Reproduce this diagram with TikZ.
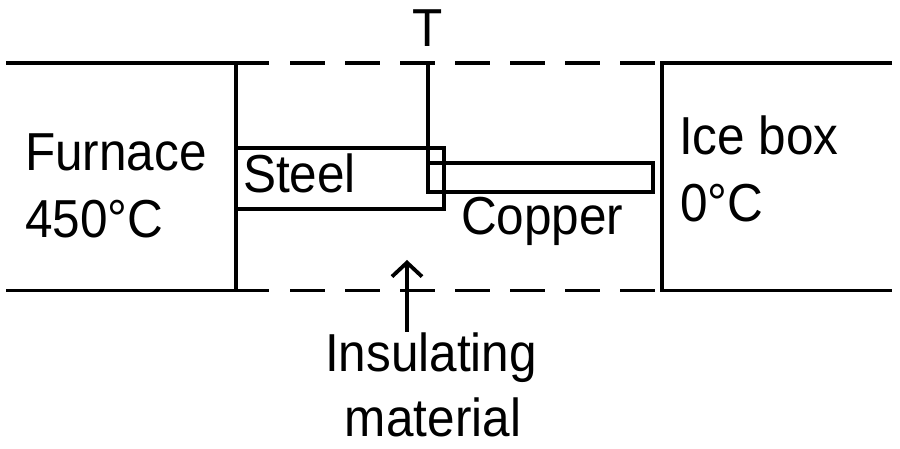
\documentclass[tikz,border=0pt]{standalone}
\usepackage{fontspec}
\setmainfont{Liberation Sans}
\usetikzlibrary{arrows.meta}
\begin{document}
\begin{tikzpicture}[x=1pt,y=1pt,
  wall/.style={line width=3.8pt},
  bar/.style={draw,line width=3.8pt,inner sep=0pt,outer sep=0pt},
  lbl/.style={inner sep=0pt,outer sep=0pt,anchor=base west,yscale=1.08,transform shape,font=\fontsize{49.5}{58}\selectfont},
  lblc/.style={lbl,anchor=base}]
\useasboundingbox (0,0) rectangle (900,449);
% walls
\draw[wall] (6,386) -- (269,386);
\draw[wall] (6,158.5) -- (269,158.5);
\draw[wall] (236,386) -- (236,158.5);
\draw[wall] (892,386) -- (662,386) -- (662,158.5) -- (892,158.5);
\draw[wall,dash pattern=on 35pt off 20pt] (290,386) -- (657,386);
\draw[wall,dash pattern=on 35pt off 20pt] (290,158.5) -- (657,158.5);
% bars
\node[bar,minimum width=208pt,minimum height=61pt] (steel) at (340,270.5) {};
\node[bar,minimum width=225pt,minimum height=29pt] (copper) at (540.5,271.5) {};
\coordinate (ttop) at (428,386);
\draw[wall] (ttop) -- (copper.north west);
% labels
\node[lblc] (tlab) at (428,402) {T};
\node[lbl] (furn1) at (25,278) {Furnace};
\node[lbl] (furn2) at (25,211) {450°C};
\node[lbl] (steellab) at (243,256) {Steel};
\node[lbl] (copperlab) at (461,214) {Copper};
\node[lbl] (ice1) at (679,294) {Ice box};
\node[lbl] (ice2) at (680,227) {0°C};
\node[lblc] (ins1) at (431,77) {Insulating};
\node[lblc] (ins2) at (433,12) {material};
% arrow
\coordinate (arrbase) at (407,117);
\coordinate (arrtip) at (407,189);
\draw[line width=3.8pt,-{Straight Barb[length=14pt,width=30pt]}] (arrbase) -- (arrtip);
\end{tikzpicture}
\end{document}
